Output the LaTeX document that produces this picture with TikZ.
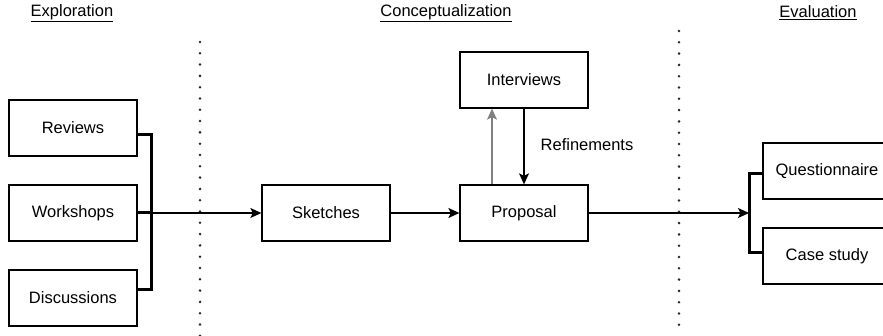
\documentclass[tikz,border=0pt]{standalone}
\usepackage{fontspec}
\setmainfont{Liberation Sans}
\usetikzlibrary{arrows.meta}

\begin{document}
\begin{tikzpicture}[x=1pt,y=-1pt,
    box/.style={draw,line width=1.3pt,minimum width=128pt,minimum height=56pt,inner sep=0pt,font=\fontsize{16.5}{19}\selectfont},
    lbl/.style={inner sep=0pt,font=\fontsize{16.5}{19}\selectfont},
    brace/.style={line width=3pt},
    arr/.style={line width=1.3pt,-{Stealth[length=11pt,width=10pt,inset=2.5pt]}},
    sep/.style={line width=2.8pt,line cap=round,dash pattern=on 0pt off 11.3pt,black!85}]
    \useasboundingbox (0,0) rectangle (883,336);
    \node[lbl] (explo) at (72,13) {\underline{Exploration}};
    \node[lbl] (concept) at (446,13) {\underline{Conceptualization}};
    \node[lbl] (evalu) at (818,13) {\underline{Evaluation}};
    \draw[sep] (200,42) -- (200,336);
    \draw[sep] (679,31) -- (679,325);
    \node[box] (reviews) at (73,128) {Reviews};
    \node[box] (workshops) at (73,213) {Workshops};
    \node[box] (discussions) at (73,298) {Discussions};
    \node[box] (sketches) at (326,213) {Sketches};
    \node[box] (proposal) at (524,213) {Proposal};
    \node[box] (interviews) at (524,80) {Interviews};
    \node[box] (quest) at (827,171) {Questionnaire};
    \node[box] (casestudy) at (827,256) {Case study};
    \coordinate (bl) at (151,213);
    \coordinate (br) at (749,213);
    \draw[brace] ([yshift=-6.5pt]reviews.east) -| (bl) |- ([yshift=8pt]discussions.east);
    \draw[brace] (workshops.east) -- (bl);
    \draw[brace] ([yshift=-3pt]quest.west) -| (br) |- ([yshift=3.5pt]casestudy.west);
    \draw[arr] (bl) -- (sketches);
    \draw[arr] (sketches) -- (proposal);
    \draw[arr] (proposal) -- (br);
    \draw[arr,black!50] ([xshift=-32pt]proposal.north) -- ([xshift=-32pt]interviews.south);
    \draw[arr] (interviews) -- (proposal);
    \node[lbl] (refine) at (587,145) {Refinements};
\end{tikzpicture}
\end{document}
